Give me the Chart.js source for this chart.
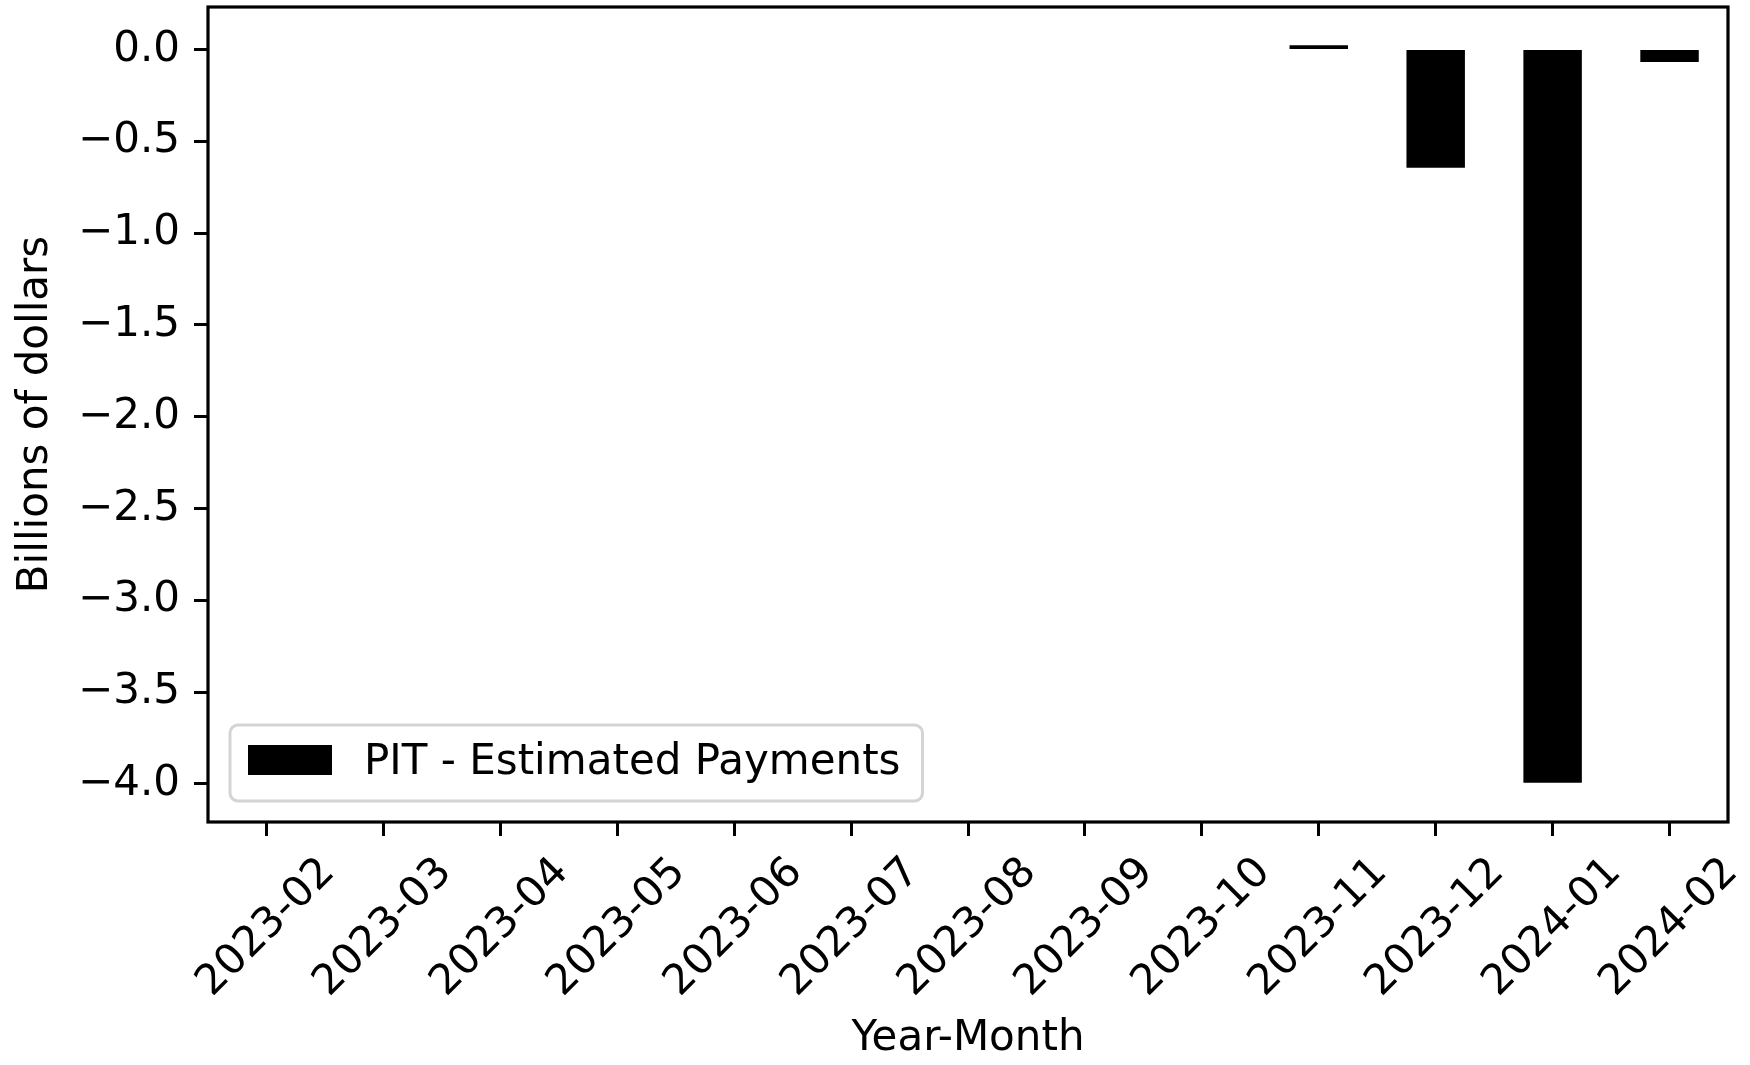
<!DOCTYPE html>
<html>
<head>
<meta charset="utf-8">
<script src="https://cdn.jsdelivr.net/npm/chart.js@4.4.1/dist/chart.umd.min.js"></script>
<style>
    html, body { margin: 0; padding: 0; background: #ffffff; }
    #chartBox { width: 1750px; height: 1065px; }
</style>
</head>
<body>
<div id="chartBox"><canvas id="pitChart" width="1750" height="1065"></canvas></div>
<script>
// ================= data ======================
var monthLabels = ['2023-02', '2023-03', '2023-04', '2023-05', '2023-06', '2023-07', '2023-08',
    '2023-09', '2023-10', '2023-11', '2023-12', '2024-01', '2024-02'];
var pitEstimated = [0, 0, 0, 0, 0, 0, 0, 0, 0, 0.023, -0.643, -3.993, -0.067];
var yTickValues = [0.0, -0.5, -1.0, -1.5, -2.0, -2.5, -3.0, -3.5, -4.0];
var seriesName = 'PIT - Estimated Payments';
var yMin = -4.207;
var yMax = 0.232;

var fontFamily = '"DejaVu Sans", sans-serif';
var fontSize = 42;

// axes frame (matplotlib style box round the plot)
var framePlugin = {
    id: 'framePlugin',
    afterDatasetsDraw: function (chart) {
        var ctx = chart.ctx,
            a = chart.chartArea;
        ctx.save();
        ctx.strokeStyle = '#000000';
        ctx.lineWidth = 3.2;
        ctx.strokeRect(a.left, a.top, a.right - a.left, a.bottom - a.top);
        ctx.restore();
    }
};

// legend drawn inside the plot, lower left
var insideLegend = {
    id: 'insideLegend',
    afterDraw: function (chart) {
        var ctx = chart.ctx,
            a = chart.chartArea,
            ds = chart.data.datasets[0];
        ctx.save();
        ctx.font = fontSize + 'px ' + fontFamily;
        var textW = ctx.measureText(ds.label).width;
        var pad = 16, handleW = 84, gap = 34;
        var boxW = pad + handleW + gap + textW + pad + 6;
        var boxH = 76;
        var x0 = a.left + 22,
            y0 = a.bottom - 21 - boxH;

        ctx.beginPath();
        ctx.roundRect(x0, y0, boxW, boxH, 8);
        ctx.fillStyle = 'rgba(255,255,255,0.8)';
        ctx.fill();
        ctx.strokeStyle = '#d4d4d4';
        ctx.lineWidth = 3;
        ctx.stroke();

        ctx.fillStyle = ds.backgroundColor;
        ctx.fillRect(x0 + pad + 2, y0 + 20, handleW, 30);

        ctx.fillStyle = '#000000';
        ctx.textBaseline = 'middle';
        ctx.textAlign = 'left';
        ctx.fillText(ds.label, x0 + pad + handleW + gap, y0 + boxH / 2);
        ctx.restore();
    }
};

function drawPitChart() {
    var tickFont = { family: fontFamily, size: fontSize };

    pitChart = new Chart(document.getElementById('pitChart').getContext('2d'), {
        type: 'bar',
        data: {
            labels: monthLabels,
            datasets: [{
                label: seriesName,
                data: pitEstimated,
                backgroundColor: '#000000',
                borderWidth: 0,
                barPercentage: 0.5,
                categoryPercentage: 1.0,
            }]
        },
        options: {
            responsive: false,
            animation: false,
            devicePixelRatio: 1,
            layout: {
                padding: { left: 0, top: 7, right: 22, bottom: 0 }
            },
            plugins: {
                legend: { display: false },
                tooltip: { enabled: false },
            },
            scales: {
                x: {
                    offset: true,
                    border: { display: false },
                    grid: {
                        display: true,
                        offset: false,
                        drawOnChartArea: false,
                        drawTicks: true,
                        tickLength: 14,
                        tickWidth: 3,
                        tickColor: '#000000',
                    },
                    ticks: {
                        autoSkip: false,
                        minRotation: 45,
                        maxRotation: 45,
                        labelOffset: 62,
                        padding: 12,
                        color: '#000000',
                        font: tickFont,
                    },
                    title: {
                        display: true,
                        text: 'Year-Month',
                        color: '#000000',
                        font: tickFont,
                        padding: { top: 0, bottom: 1 },
                    },
                    afterFit: function (scale) {
                        scale.height = 243;
                        scale.paddingLeft = 0;
                        scale.paddingRight = 0;
                    },
                },
                y: {
                    min: yMin,
                    max: yMax,
                    border: { display: false },
                    grid: {
                        display: true,
                        drawOnChartArea: false,
                        drawTicks: true,
                        tickLength: 14,
                        tickWidth: 3,
                        tickColor: '#000000',
                    },
                    afterBuildTicks: function (scale) {
                        scale.ticks = yTickValues.map(function (v) { return { value: v }; });
                    },
                    ticks: {
                        padding: 14,
                        color: '#000000',
                        font: tickFont,
                        callback: function (value) {
                            var s = Math.abs(value).toFixed(1);
                            return value < -1e-9 ? '\u2212' + s : s;
                        },
                    },
                    title: {
                        display: true,
                        text: 'Billions of dollars',
                        color: '#000000',
                        font: tickFont,
                        padding: { top: 11, bottom: 0 },
                    },
                    afterFit: function (scale) {
                        scale.width = 208;
                        scale.paddingTop = 0;
                        scale.paddingBottom = 0;
                    },
                },
            },
        },
        plugins: [framePlugin, insideLegend],
    });
};

drawPitChart();
</script>
</body>
</html>
